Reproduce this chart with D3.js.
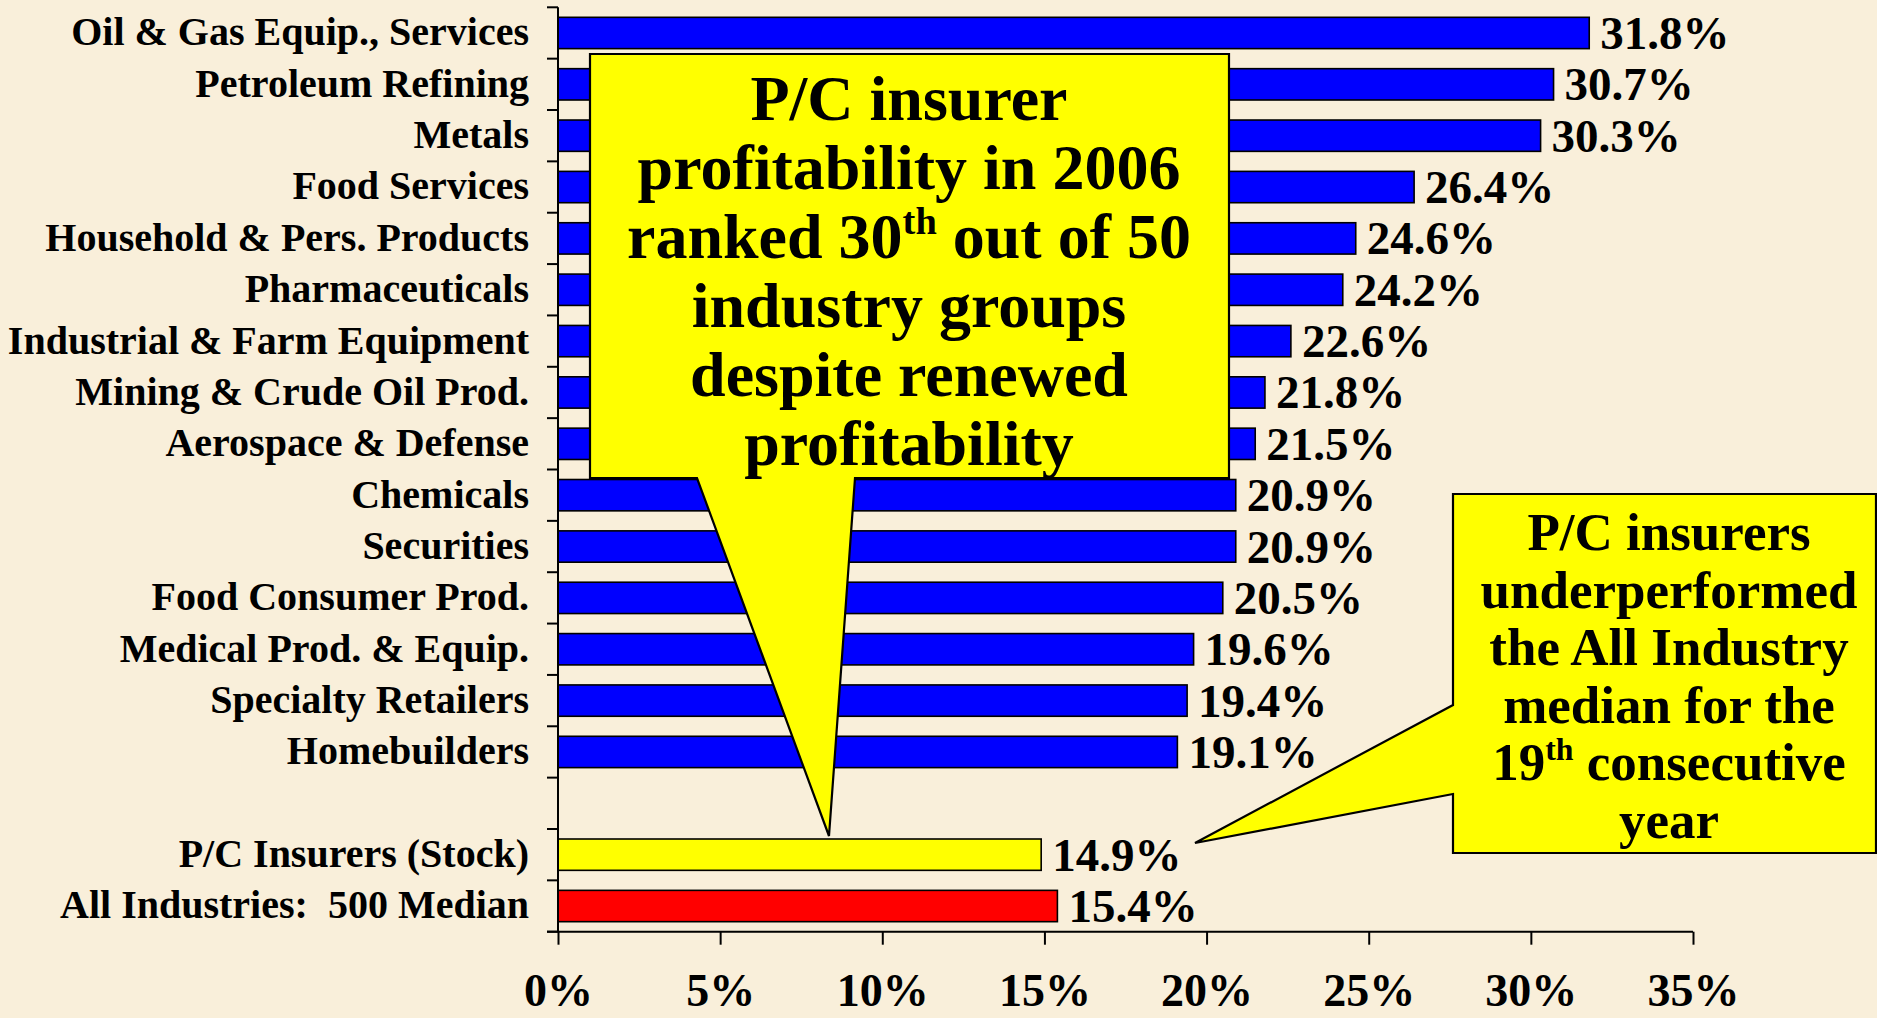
<!DOCTYPE html>
<html>
<head>
<meta charset="utf-8">
<script src="https://cdn.jsdelivr.net/npm/d3@7"></script>
<style>
  html, body { margin: 0; padding: 0; background: #F9EFDA; }
  svg { display: block; }
  text { font-family: "Liberation Serif", "Times New Roman", serif; font-weight: bold; fill: #000; white-space: pre; }
</style>
</head>
<body>
<svg id="chart" width="1877" height="1018"></svg>
<script>
// ---- data ----
const categories = [
  "Oil & Gas Equip., Services",
  "Petroleum Refining",
  "Metals",
  "Food Services",
  "Household & Pers. Products",
  "Pharmaceuticals",
  "Industrial & Farm Equipment",
  "Mining & Crude Oil Prod.",
  "Aerospace & Defense",
  "Chemicals",
  "Securities",
  "Food Consumer Prod.",
  "Medical Prod. & Equip.",
  "Specialty Retailers",
  "Homebuilders",
  "",
  "P/C Insurers (Stock)",
  "All Industries:  500 Median"
];
const values = [31.8, 30.7, 30.3, 26.4, 24.6, 24.2, 22.6, 21.8, 21.5, 20.9, 20.9, 20.5, 19.6, 19.4, 19.1, null, 14.9, 15.4];
const barGroups = ["industry","industry","industry","industry","industry","industry","industry","industry","industry","industry","industry","industry","industry","industry","industry","blank","pc","all"];
const xTicks = [0, 5, 10, 15, 20, 25, 30, 35];
const callout1Lines = ["P/C insurer", "profitability in 2006", "ranked 30|th| out of 50", "industry groups", "despite renewed", "profitability"];
const callout2Lines = ["P/C insurers", "underperformed", "the All Industry", "median for the", "19|th| consecutive", "year"];

const colorOf = { industry: "#0000FF", pc: "#FFFF00", all: "#FF0000" };

const svg = d3.select("#chart");
const W = 1877, H = 1018;
svg.append("rect").attr("width", W).attr("height", H).attr("fill", "#F9EFDA");

const x = d3.scaleLinear().domain([0, 35]).range([558, 1693]);
const y = d3.scaleBand().domain(categories).range([7.3, 931.7]).paddingInner(0.39).paddingOuter(0.195);

const rows = categories.map((c, i) => ({ c, v: values[i], g: barGroups[i] }));

// bars
svg.append("g").selectAll("rect").data(rows.filter(d => d.v != null)).join("rect")
  .attr("x", x(0))
  .attr("y", d => y(d.c))
  .attr("width", d => x(d.v) - x(0))
  .attr("height", y.bandwidth())
  .attr("fill", d => colorOf[d.g])
  .attr("stroke", "#000")
  .attr("stroke-width", 1.6);

// value labels
svg.append("g").selectAll("text").data(rows.filter(d => d.v != null)).join("text")
  .attr("x", d => x(d.v) + 11)
  .attr("y", d => y(d.c) + y.bandwidth() / 2 + 16)
  .attr("font-size", 47)
  .text(d => d.v.toFixed(1) + "%");

// y axis (labels)
const yAxis = svg.append("g").attr("transform", `translate(${x(0)},0)`)
  .call(d3.axisLeft(y).tickSize(0).tickPadding(29));
yAxis.select(".domain").remove();
yAxis.selectAll("text")
  .attr("font-size", 40)
  .attr("font-family", null)
  .attr("dy", "0.31em");

// y boundary ticks + axis line
const r0 = y.range()[0];
const bounds = d3.range(categories.length + 1).map(i => r0 + i * y.step());
svg.append("g").selectAll("line").data(bounds).join("line")
  .attr("x1", x(0) - 11).attr("x2", x(0))
  .attr("y1", d => d).attr("y2", d => d)
  .attr("stroke", "#000").attr("stroke-width", 2);
svg.append("line")
  .attr("x1", x(0)).attr("x2", x(0))
  .attr("y1", bounds[0]).attr("y2", bounds[bounds.length - 1])
  .attr("stroke", "#000").attr("stroke-width", 2);

// x axis
const axisY = bounds[bounds.length - 1];
const xAxis = svg.append("g").attr("transform", `translate(0,${axisY})`)
  .call(d3.axisBottom(x).tickValues(xTicks).tickFormat(d => d + "%").tickSize(13).tickSizeOuter(0));
xAxis.select(".domain").remove();
xAxis.selectAll(".tick line").attr("stroke", "#000").attr("stroke-width", 2);
xAxis.selectAll("text")
  .attr("font-size", 46)
  .attr("font-family", null)
  .attr("y", 74)
  .attr("dy", 0);
svg.append("line")
  .attr("x1", x(0) - 11).attr("x2", x(35))
  .attr("y1", axisY).attr("y2", axisY)
  .attr("stroke", "#000").attr("stroke-width", 2);

// callouts
function addLines(g, lines, cx, firstBaseline, lineStep, fs) {
  lines.forEach((ln, i) => {
    const t = g.append("text")
      .attr("x", cx).attr("y", firstBaseline + i * lineStep)
      .attr("text-anchor", "middle")
      .attr("font-size", fs);
    const parts = ln.split("|");
    parts.forEach((p, j) => {
      if (j % 2 === 1) {
        t.append("tspan").attr("font-size", fs * 0.6).attr("dy", -fs * 0.38).text(p);
      } else {
        const ts = t.append("tspan").text(p);
        if (j > 0) ts.attr("dy", fs * 0.38);
      }
    });
  });
}

const c1 = svg.append("g");
c1.append("path")
  .attr("d", "M590,54 H1229 V478 H855 L829,836 L697,478 H590 Z")
  .attr("fill", "#FFFF00").attr("stroke", "#000").attr("stroke-width", 2.2).attr("stroke-linejoin", "miter");
addLines(c1, callout1Lines, 909, 120, 69, 64);

const c2 = svg.append("g");
c2.append("path")
  .attr("d", "M1453,494 H1876 V853 H1453 V794 L1195,843 L1453,705 Z")
  .attr("fill", "#FFFF00").attr("stroke", "#000").attr("stroke-width", 2.2).attr("stroke-linejoin", "miter");
addLines(c2, callout2Lines, 1669, 550, 57.6, 53);
</script>
</body>
</html>
